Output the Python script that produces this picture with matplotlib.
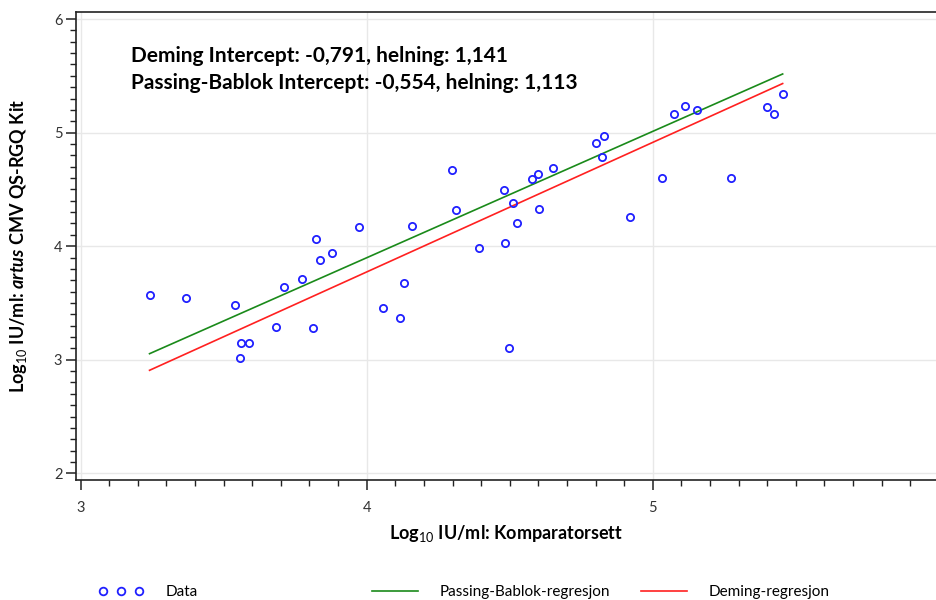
import matplotlib
matplotlib.use("Agg")
import matplotlib.pyplot as plt
from matplotlib.lines import Line2D
from matplotlib.ticker import MultipleLocator
import numpy as np

# ---- data ----
comparator = [3.241, 3.368, 3.539, 3.561, 3.588, 3.556, 3.682, 3.710, 3.775, 3.811,
              3.824, 3.836, 3.878, 3.972, 4.057, 4.118, 4.130, 4.158, 4.297, 4.311,
              4.392, 4.483, 4.498, 4.481, 4.512, 4.527, 4.602, 4.579, 4.600, 4.653,
              4.800, 4.831, 4.823, 4.919, 5.031, 5.073, 5.112, 5.153, 5.272, 5.400,
              5.422, 5.454]
artus = [3.573, 3.547, 3.485, 3.150, 3.150, 3.016, 3.291, 3.638, 3.714, 3.283,
         4.063, 3.881, 3.943, 4.166, 3.453, 3.371, 3.679, 4.180, 4.671, 4.321,
         3.984, 4.031, 3.107, 4.497, 4.383, 4.202, 4.325, 4.589, 4.636, 4.688,
         4.908, 4.973, 4.785, 4.254, 4.598, 5.161, 5.234, 5.202, 4.598, 5.223,
         5.166, 5.340]
deming_intercept, deming_slope = -0.791, 1.141
pb_intercept, pb_slope = -0.554, 1.113
x_ticks = [3, 4, 5]
y_ticks = [2, 3, 4, 5, 6]

plt.rcParams['font.family'] = ['Lato', 'DejaVu Sans']
plt.rcParams['mathtext.fontset'] = 'custom'
plt.rcParams['mathtext.rm'] = 'Lato'
plt.rcParams['mathtext.it'] = 'Lato:italic:bold'
plt.rcParams['mathtext.bf'] = 'Lato:bold'

fig = plt.figure(figsize=(9.36, 6.0), dpi=100)
ax = fig.add_axes([76.3 / 936, 1 - 480 / 600, 1 - 76.3 / 936, (480 - 12) / 600])

ax.set_xlim(2.985, 5.99)
ax.set_ylim(1.941, 6.062)

# grid
ax.set_xticks(x_ticks)
ax.set_yticks(y_ticks)
ax.xaxis.set_minor_locator(MultipleLocator(0.1))
ax.yaxis.set_minor_locator(MultipleLocator(0.1))
ax.grid(True, which='major', color='#e8e8e8', linewidth=1.0, zorder=0)
ax.set_axisbelow(True)

# regression lines drawn over data range
xs = np.array([min(comparator), max(comparator)])
ax.plot(xs, pb_intercept + pb_slope * xs, color='#1a8a1a', linewidth=1.2, zorder=2)
ax.plot(xs, deming_intercept + deming_slope * xs, color='#ff2020', linewidth=1.2, zorder=2)

# data points
ax.plot(comparator, artus, linestyle='none', marker='o', markersize=5.2,
        markerfacecolor='none', markeredgecolor='#2020ff', markeredgewidth=1.3, zorder=3)

# spines / ticks
for s in ['left', 'bottom', 'top']:
    ax.spines[s].set_color('#222222')
    ax.spines[s].set_linewidth(1.2)
ax.spines['right'].set_visible(False)
ax.tick_params(which='major', direction='out', length=7, width=1.1, color='#222222',
               labelsize=10.5, labelcolor='#333333')
ax.tick_params(which='minor', direction='out', length=4, width=1.0, color='#222222')
ax.tick_params(axis='x', which='major', pad=8)
ax.tick_params(axis='y', which='major', pad=3)

ax.set_xlabel(r"Log$_{10}$ IU/ml: Komparatorsett", fontsize=13, fontweight='bold', labelpad=6)
ax.set_ylabel(r"Log$_{10}$ IU/ml: $\mathit{artus}$ CMV QS-RGQ Kit", fontsize=13,
              fontweight='bold', labelpad=18)

# annotation
ax.text(131 / 936, 1 - 62 / 600,
        f"Deming Intercept: {deming_intercept:.3f}, helning: {deming_slope:.3f}".replace('.', ','),
        transform=fig.transFigure, fontsize=15, fontweight='bold', va='baseline', ha='left')
ax.text(131 / 936, 1 - 89 / 600,
        f"Passing-Bablok Intercept: {pb_intercept:.3f}, helning: {pb_slope:.3f}".replace('.', ','),
        transform=fig.transFigure, fontsize=15, fontweight='bold', va='baseline', ha='left')

# legend (three separate pieces laid out along the bottom)
h_data = Line2D([], [], linestyle='none', marker='o', markersize=5.5,
                markerfacecolor='none', markeredgecolor='#2020ff', markeredgewidth=1.3)
h_pb = Line2D([], [], color='#1a8a1a', linewidth=1.2)
h_dem = Line2D([], [], color='#ff2020', linewidth=1.2)

leg_kw = dict(frameon=False, fontsize=11, handletextpad=1.4, borderpad=0, borderaxespad=0)
fig.legend([h_data], ['Data'], loc='center left', bbox_to_anchor=(98 / 936, 1 - 592 / 600),
           numpoints=3, handlelength=3.0, **leg_kw)
fig.legend([h_pb], ['Passing-Bablok-regresjon'], loc='center left',
           bbox_to_anchor=(372 / 936, 1 - 592 / 600), handlelength=3.0, **leg_kw)
fig.legend([h_dem], ['Deming-regresjon'], loc='center left',
           bbox_to_anchor=(641 / 936, 1 - 592 / 600), handlelength=3.0, **leg_kw)

fig.savefig('out.png', dpi=100)
